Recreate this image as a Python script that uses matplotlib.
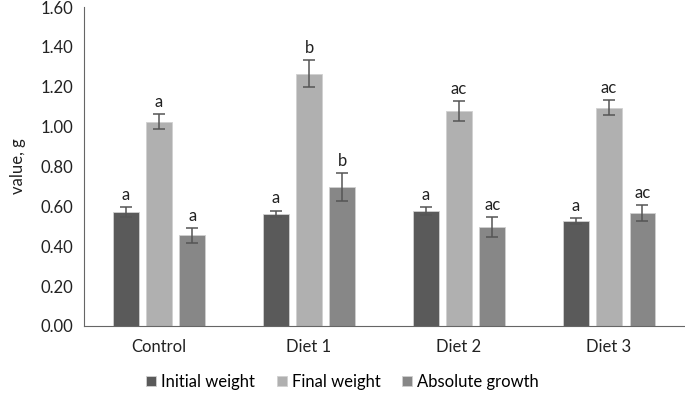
import numpy as np
import matplotlib.pyplot as plt

plt.rcParams['font.family'] = ['Lato', 'DejaVu Sans']

groups = ['Control', 'Diet 1', 'Diet 2', 'Diet 3']
series = ['Initial weight', 'Final weight', 'Absolute growth']
initial = [0.570, 0.563, 0.575, 0.525]
final = [1.025, 1.265, 1.078, 1.095]
growth = [0.455, 0.696, 0.497, 0.565]
initial_err = [0.025, 0.015, 0.020, 0.015]
final_err = [0.037, 0.068, 0.050, 0.038]
growth_err = [0.037, 0.070, 0.050, 0.040]
initial_lbl = ['a', 'a', 'a', 'a']
final_lbl = ['a', 'b', 'ac', 'ac']
growth_lbl = ['a', 'b', 'ac', 'ac']

colors = ['#5a5a5a', '#b0b0b0', '#878787']

fig = plt.figure(figsize=(6.85, 4), dpi=100)
ax = fig.add_axes([0.1226, 0.185, 0.876, 0.7975])

x = np.arange(len(groups))
w = 0.173
step = 0.223
vals = [initial, final, growth]
errs = [initial_err, final_err, growth_err]
lbls = [initial_lbl, final_lbl, growth_lbl]
for i in range(3):
    pos = x + (i - 1) * step
    ax.bar(pos, vals[i], w, color=colors[i], edgecolor='#d0d0d0', linewidth=0.6,
           label=series[i], zorder=2)
    ax.errorbar(pos, vals[i], yerr=errs[i], fmt='none', ecolor='#555555',
                elinewidth=1.1, capsize=4, capthick=1.1, zorder=3)
    for p, v, e, t in zip(pos, vals[i], errs[i], lbls[i]):
        ax.text(p, v + e + 0.022, t, ha='center', va='bottom', fontsize=12, color='#222222')

ax.set_xlim(-0.5, 3.5)
ax.set_ylim(0, 1.6)
ax.set_yticks(np.arange(0, 1.61, 0.2))
ax.set_yticklabels(['%.2f' % v for v in np.arange(0, 1.61, 0.2)])
ax.set_xticks(x)
ax.set_xticklabels(groups)
ax.tick_params(axis='both', length=0, labelsize=12, colors='#222222', pad=8)
ax.tick_params(axis='x', pad=9)
ax.set_ylabel('value, g', fontsize=12, color='#222222', labelpad=10)
for s in ['top', 'right']:
    ax.spines[s].set_visible(False)
ax.spines['left'].set_color('#666666')
ax.spines['bottom'].set_color('#666666')

fig.legend(loc='center', bbox_to_anchor=(0.5, 0.045), ncol=3, frameon=False,
           fontsize=12, handlelength=0.6, handleheight=0.6, handletextpad=0.3,
           columnspacing=1.3)

fig.savefig('out.png', dpi=100)
